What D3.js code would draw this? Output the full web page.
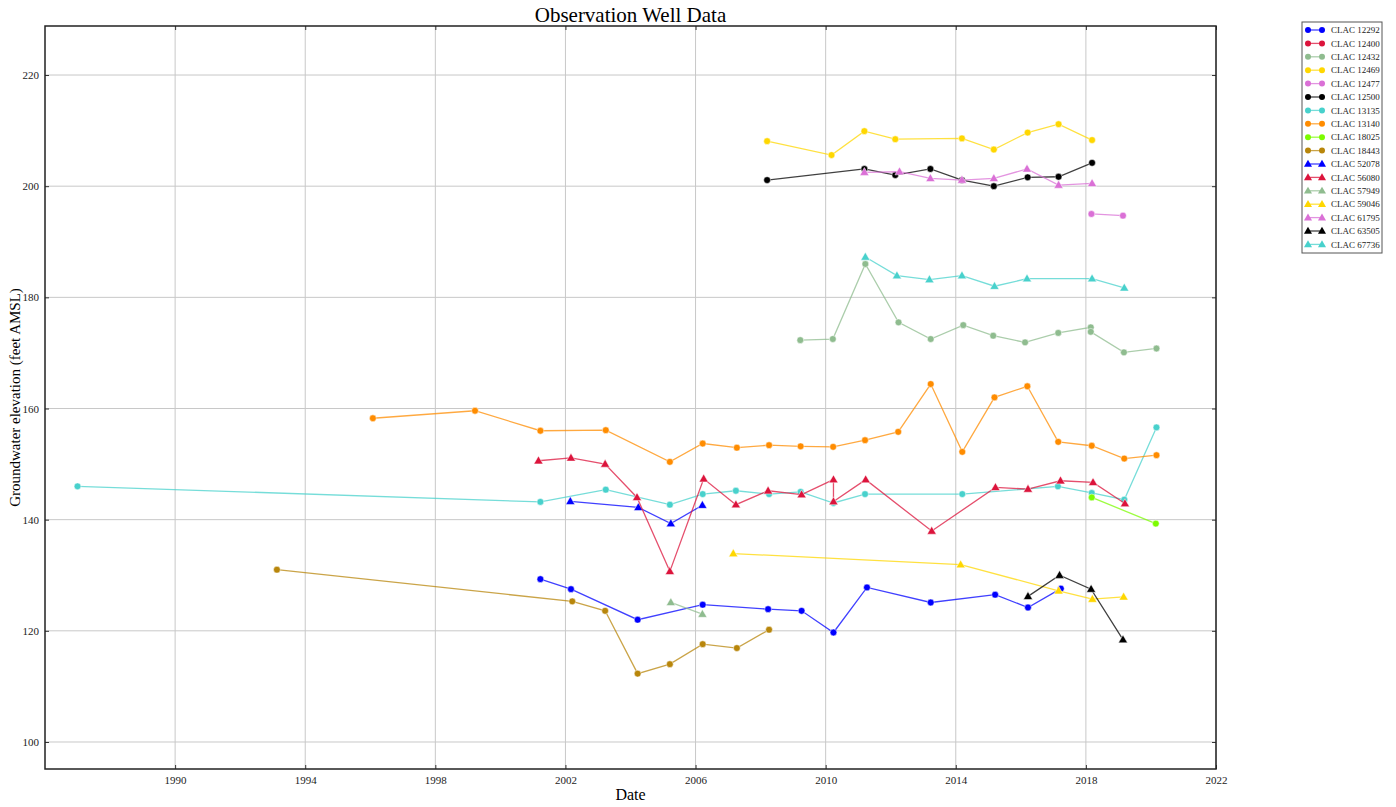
<!DOCTYPE html>
<html>
<head>
<meta charset="utf-8">
<script src="https://cdn.jsdelivr.net/npm/d3@7"></script>
<style>
  body { margin: 0; background: #fff; }
  svg { font-family: "Liberation Serif", "DejaVu Serif", serif; }
</style>
</head>
<body>
<div id="chart"></div>
<script>
// well ids in legend order, circle wells first then triangle wells
const wellNames = ['CLAC 12292', 'CLAC 12400', 'CLAC 12432', 'CLAC 12469', 'CLAC 12477',
  'CLAC 12500', 'CLAC 13135', 'CLAC 13140', 'CLAC 18025', 'CLAC 18443',
  'CLAC 52078', 'CLAC 56080', 'CLAC 57949', 'CLAC 59046', 'CLAC 61795', 'CLAC 63505', 'CLAC 67736'];
const wellColors = ['#0000ff', '#dc143c', '#8fbc8f', '#ffd700', '#da70d6', '#000000', '#48d1cc',
  '#ff8c00', '#7cfc00', '#b8860b',
  '#0000ff', '#dc143c', '#8fbc8f', '#ffd700', '#da70d6', '#000000', '#48d1cc'];
const wellMarkers = ['circle', 'circle', 'circle', 'circle', 'circle', 'circle', 'circle', 'circle', 'circle', 'circle',
  'triangle', 'triangle', 'triangle', 'triangle', 'triangle', 'triangle', 'triangle'];

// [decimal year, elevation ft AMSL]
const clac12292 = [[2001.23, 129.3], [2002.17, 127.5], [2004.22, 122.0], [2006.22, 124.7], [2008.23, 123.9],
  [2009.26, 123.6], [2010.24, 119.7], [2011.27, 127.8], [2013.23, 125.1], [2015.21, 126.5], [2016.22, 124.2], [2017.23, 127.6]];
const clac12400 = [];
const clac12432 = [[2009.22, 172.3], [2010.22, 172.5], [2011.22, 186.0], [2012.24, 175.5], [2013.23, 172.5],
  [2014.23, 175.0], [2015.15, 173.1], [2016.13, 171.9], [2017.15, 173.6], [2018.15, 174.6], [2018.15, 173.8],
  [2019.17, 170.1], [2020.17, 170.8]];
const clac12469 = [[2008.2, 208.1], [2010.18, 205.6], [2011.19, 209.9], [2012.14, 208.45], [2014.19, 208.6],
  [2015.17, 206.6], [2016.21, 209.65], [2017.16, 211.15], [2018.19, 208.3]];
const clac12477 = [[2018.17, 195.0], [2019.14, 194.7]];
const clac12500 = [[2008.2, 201.1], [2011.19, 203.1], [2012.14, 202.0], [2013.22, 203.1], [2014.19, 201.1],
  [2015.17, 200.0], [2016.21, 201.6], [2017.16, 201.7], [2018.19, 204.2]];
const clac13135 = [[1987.0, 146.0], [2001.23, 143.2], [2003.24, 145.4], [2005.21, 142.7], [2006.22, 144.6],
  [2007.24, 145.2], [2008.26, 144.6], [2009.23, 145.0], [2010.24, 143.0], [2011.21, 144.6], [2014.2, 144.6],
  [2017.14, 146.0], [2018.18, 144.8], [2019.18, 143.6], [2020.17, 156.6]];
const clac13140 = [[1996.08, 158.25], [1999.22, 159.6], [2001.23, 156.0], [2003.24, 156.1], [2005.21, 150.4],
  [2006.22, 153.7], [2007.27, 152.95], [2008.26, 153.4], [2009.23, 153.2], [2010.23, 153.1], [2011.21, 154.3],
  [2012.23, 155.8], [2013.23, 164.4], [2014.2, 152.2], [2015.19, 162.0], [2016.2, 164.0], [2017.15, 154.0],
  [2018.18, 153.3], [2019.18, 151.0], [2020.17, 151.6]];
const clac18025 = [[2018.18, 144.0], [2020.15, 139.3]];
const clac18443 = [[1993.13, 131.0], [2002.21, 125.3], [2003.22, 123.6], [2004.22, 112.3], [2005.21, 114.0],
  [2006.22, 117.6], [2007.27, 116.9], [2008.26, 120.2]];
const clac52078 = [[2002.15, 143.3], [2004.24, 142.2], [2005.24, 139.3], [2006.21, 142.6]];
const clac56080 = [[2001.17, 150.6], [2002.17, 151.1], [2003.22, 150.0], [2004.2, 144.0], [2005.21, 130.7],
  [2006.25, 147.35], [2007.24, 142.7], [2008.23, 145.2], [2009.26, 144.5], [2010.24, 147.2], [2010.24, 143.25],
  [2011.23, 147.2], [2013.26, 137.95], [2015.22, 145.8], [2016.22, 145.5], [2017.22, 147.0], [2018.22, 146.7],
  [2019.2, 142.9]];
const clac57949 = [[2005.24, 125.1], [2006.21, 123.0]];
const clac59046 = [[2007.16, 133.9], [2014.15, 131.9], [2017.16, 127.2], [2018.2, 125.7], [2019.16, 126.1]];
const clac61795 = [[2011.19, 202.5], [2012.27, 202.6], [2013.22, 201.4], [2014.19, 201.1], [2015.17, 201.4],
  [2016.19, 203.1], [2017.16, 200.2], [2018.19, 200.5]];
const clac63505 = [[2016.22, 126.2], [2017.19, 130.0], [2018.16, 127.5], [2019.14, 118.4]];
const clac67736 = [[2011.22, 187.25], [2012.19, 183.9], [2013.19, 183.2], [2014.19, 183.9], [2015.19, 182.0],
  [2016.19, 183.35], [2018.19, 183.35], [2019.18, 181.7]];

const wellData = [clac12292, clac12400, clac12432, clac12469, clac12477, clac12500, clac13135, clac13140,
  clac18025, clac18443, clac52078, clac56080, clac57949, clac59046, clac61795, clac63505, clac67736];

const xTicks = [1990, 1994, 1998, 2002, 2006, 2010, 2014, 2018, 2022];
const yTicks = [100, 120, 140, 160, 180, 200, 220];

const W = 1396, H = 807;
const margin = { top: 26, right: 180, bottom: 38, left: 45 };
const plotW = 1216 - margin.left;
const plotH = 769 - margin.top;

const svg = d3.select('#chart').append('svg')
  .attr('width', W)
  .attr('height', H);

const x = d3.scaleLinear().domain([1986, 2022]).range([0, plotW]);
const y = d3.scaleLinear().domain([95.14, 228.82]).range([plotH, 0]);

const g = svg.append('g').attr('transform', `translate(${margin.left},${margin.top})`);

// grid
g.append('g')
  .selectAll('line.vgrid')
  .data(xTicks)
  .join('line')
  .attr('x1', d => x(d)).attr('x2', d => x(d))
  .attr('y1', 0).attr('y2', plotH)
  .attr('stroke', '#c8c8c8').attr('stroke-width', 1);
g.append('g')
  .selectAll('line.hgrid')
  .data(yTicks)
  .join('line')
  .attr('x1', 0).attr('x2', plotW)
  .attr('y1', d => y(d)).attr('y2', d => y(d))
  .attr('stroke', '#c8c8c8').attr('stroke-width', 1);

// axes with inward ticks
const xAxis = g.append('g')
  .attr('transform', `translate(0,${plotH})`)
  .call(d3.axisBottom(x).tickValues(xTicks).tickFormat(d3.format('d')).tickSizeInner(-4).tickSizeOuter(0).tickPadding(7));
const yAxis = g.append('g')
  .call(d3.axisLeft(y).tickValues(yTicks).tickFormat(d3.format('d')).tickSizeInner(-4).tickSizeOuter(0).tickPadding(6));
g.append('g')
  .attr('transform', `translate(${plotW},0)`)
  .call(d3.axisRight(y).tickValues(yTicks).tickFormat('').tickSizeInner(-4).tickSizeOuter(0));
g.append('g')
  .call(d3.axisTop(x).tickValues(xTicks).tickFormat('').tickSizeInner(-4).tickSizeOuter(0));
g.selectAll('.domain').remove();
g.selectAll('.tick line').attr('stroke', '#333');
[xAxis, yAxis].forEach(a => a.selectAll('text')
  .attr('font-family', '"Liberation Serif", serif')
  .attr('font-size', 11)
  .attr('fill', '#222'));

const line = d3.line().x(d => x(d[0])).y(d => y(d[1]));
const tri = d3.symbol().type(d3.symbolTriangle).size(36);

wellData.forEach((pts, i) => {
  const color = wellColors[i];
  const s = g.append('g').attr('class', 'well');
  s.append('path')
    .attr('d', line(pts))
    .attr('fill', 'none')
    .attr('stroke', color)
    .attr('stroke-opacity', 0.75)
    .attr('stroke-width', 1.3);
  if (wellMarkers[i] === 'circle') {
    s.selectAll('circle')
      .data(pts)
      .join('circle')
      .attr('cx', d => x(d[0]))
      .attr('cy', d => y(d[1]))
      .attr('r', 3.4)
      .attr('fill', color)
      .attr('stroke', '#fff')
      .attr('stroke-width', 0.5);
  } else {
    s.selectAll('path.m')
      .data(pts)
      .join('path')
      .attr('class', 'm')
      .attr('transform', d => `translate(${x(d[0])},${y(d[1]) + 0.5})`)
      .attr('d', tri)
      .attr('fill', color)
      .attr('stroke', '#fff')
      .attr('stroke-width', 0.5);
  }
});

// frame
g.append('rect')
  .attr('width', plotW).attr('height', plotH)
  .attr('fill', 'none')
  .attr('stroke', '#222')
  .attr('stroke-width', 1.5);

// title and labels
svg.append('text')
  .attr('x', margin.left + plotW / 2).attr('y', 22)
  .attr('text-anchor', 'middle')
  .attr('font-size', 21)
  .text('Observation Well Data');
svg.append('text')
  .attr('x', margin.left + plotW / 2).attr('y', 800)
  .attr('text-anchor', 'middle')
  .attr('font-size', 16)
  .text('Date');
svg.append('text')
  .attr('transform', `translate(20,${margin.top + plotH / 2}) rotate(-90)`)
  .attr('text-anchor', 'middle')
  .attr('font-size', 15)
  .text('Groundwater elevation (feet AMSL)');

// legend
const legend = svg.append('g').attr('transform', 'translate(1302,22)');
legend.append('rect')
  .attr('width', 80).attr('height', 231)
  .attr('fill', '#fff')
  .attr('stroke', '#555')
  .attr('stroke-width', 1);
const item = legend.selectAll('g.item')
  .data(wellNames)
  .join('g')
  .attr('class', 'item')
  .attr('transform', (d, i) => `translate(0,${8 + i * 13.4})`);
item.append('line')
  .attr('x1', 6).attr('x2', 20)
  .attr('stroke', (d, i) => wellColors[i])
  .attr('stroke-opacity', 0.75)
  .attr('stroke-width', 1.3);
item.each(function (d, i) {
  const it = d3.select(this);
  [6, 20].forEach(px => {
    if (wellMarkers[i] === 'circle') {
      it.append('circle').attr('cx', px).attr('r', 3).attr('fill', wellColors[i]);
    } else {
      it.append('path').attr('transform', `translate(${px},0.5)`)
        .attr('d', d3.symbol().type(d3.symbolTriangle).size(28)).attr('fill', wellColors[i]);
    }
  });
});
item.append('text')
  .attr('x', 29).attr('dy', '0.35em')
  .attr('font-size', 9)
  .attr('fill', '#222')
  .text(d => d);
</script>
</body>
</html>
